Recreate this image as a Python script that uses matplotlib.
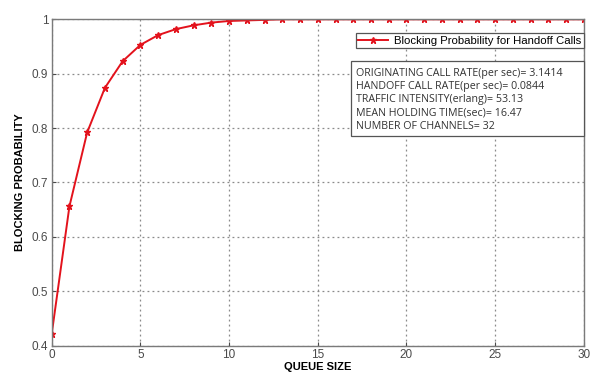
import matplotlib
matplotlib.use("Agg")
import matplotlib.pyplot as plt
from matplotlib.patches import Rectangle

# Blocking probability vs queue size (handoff calls)
queue_size = list(range(0, 31))
blocking_prob = [0.421, 0.656, 0.792, 0.874, 0.923, 0.953, 0.971, 0.982, 0.989,
                 0.994, 0.997, 0.998, 0.999, 1.0, 1.0, 1.0, 1.0, 1.0, 1.0, 1.0,
                 1.0, 1.0, 1.0, 1.0, 1.0, 1.0, 1.0, 1.0, 1.0, 1.0, 1.0]

x_ticks = [0, 5, 10, 15, 20, 25, 30]
y_ticks = [0.4, 0.5, 0.6, 0.7, 0.8, 0.9, 1.0]
y_tick_labels = ["0.4", "0.5", "0.6", "0.7", "0.8", "0.9", "1"]

params_text = ("ORIGINATING CALL RATE(per sec)= 3.1414\n"
               "HANDOFF CALL RATE(per sec)= 0.0844\n"
               "TRAFFIC INTENSITY(erlang)= 53.13\n"
               "MEAN HOLDING TIME(sec)= 16.47\n"
               "NUMBER OF CHANNELS= 32")

fig = plt.figure(figsize=(5.92, 3.72), dpi=100)
ax = fig.add_axes([0.0873, 0.071, 0.899, 0.877])

ax.plot(queue_size, blocking_prob, color="#e3121c", lw=1.4, marker="*",
        ms=4.5, mec="#e3121c", mfc="#e3121c",
        label="Blocking Probability for Handoff Calls")

ax.set_xlim(0, 30)
ax.set_ylim(0.4, 1.0)
ax.set_xticks(x_ticks)
ax.set_yticks(y_ticks)
ax.set_yticklabels(y_tick_labels)
ax.grid(True, ls=(0, (1.5, 2.5)), color="#8a8a8a", lw=0.9)
ax.tick_params(labelsize=8.5, colors="#4a4a4a", length=3, width=0.8,
               direction="in", pad=2.5)
for lbl in ax.get_xticklabels() + ax.get_yticklabels():
    lbl.set_fontfamily("Liberation Sans")
for sp in ax.spines.values():
    sp.set_color("#7a7a7a")
    sp.set_linewidth(1.0)

ax.set_xlabel("QUEUE SIZE", fontsize=8, fontweight="bold",
              family="Liberation Sans", labelpad=0.5)
ax.set_ylabel("BLOCKING PROBABILITY", fontsize=8, fontweight="bold",
              family="Liberation Sans", labelpad=5)

leg = ax.legend(loc="upper right", bbox_to_anchor=(1.0, 0.957),
                prop={"family": "Liberation Sans", "size": 8.2},
                fancybox=False, framealpha=1, edgecolor="#555555",
                borderpad=0.2, handlelength=2.6, handletextpad=0.6,
                borderaxespad=0)
leg.get_frame().set_linewidth(0.9)

# parameter box spanning to the right spine
ax.add_patch(Rectangle((0.562, 0.642), 0.438, 0.231, transform=ax.transAxes,
                       fc="white", ec="#555555", lw=0.9, zorder=4,
                       clip_on=False))
ax.text(0.571, 0.852, params_text, transform=ax.transAxes, va="top",
        ha="left", fontsize=7.7, family="Open Sans", color="#333333",
        linespacing=1.28, zorder=5)

fig.savefig("out.png", dpi=100)
